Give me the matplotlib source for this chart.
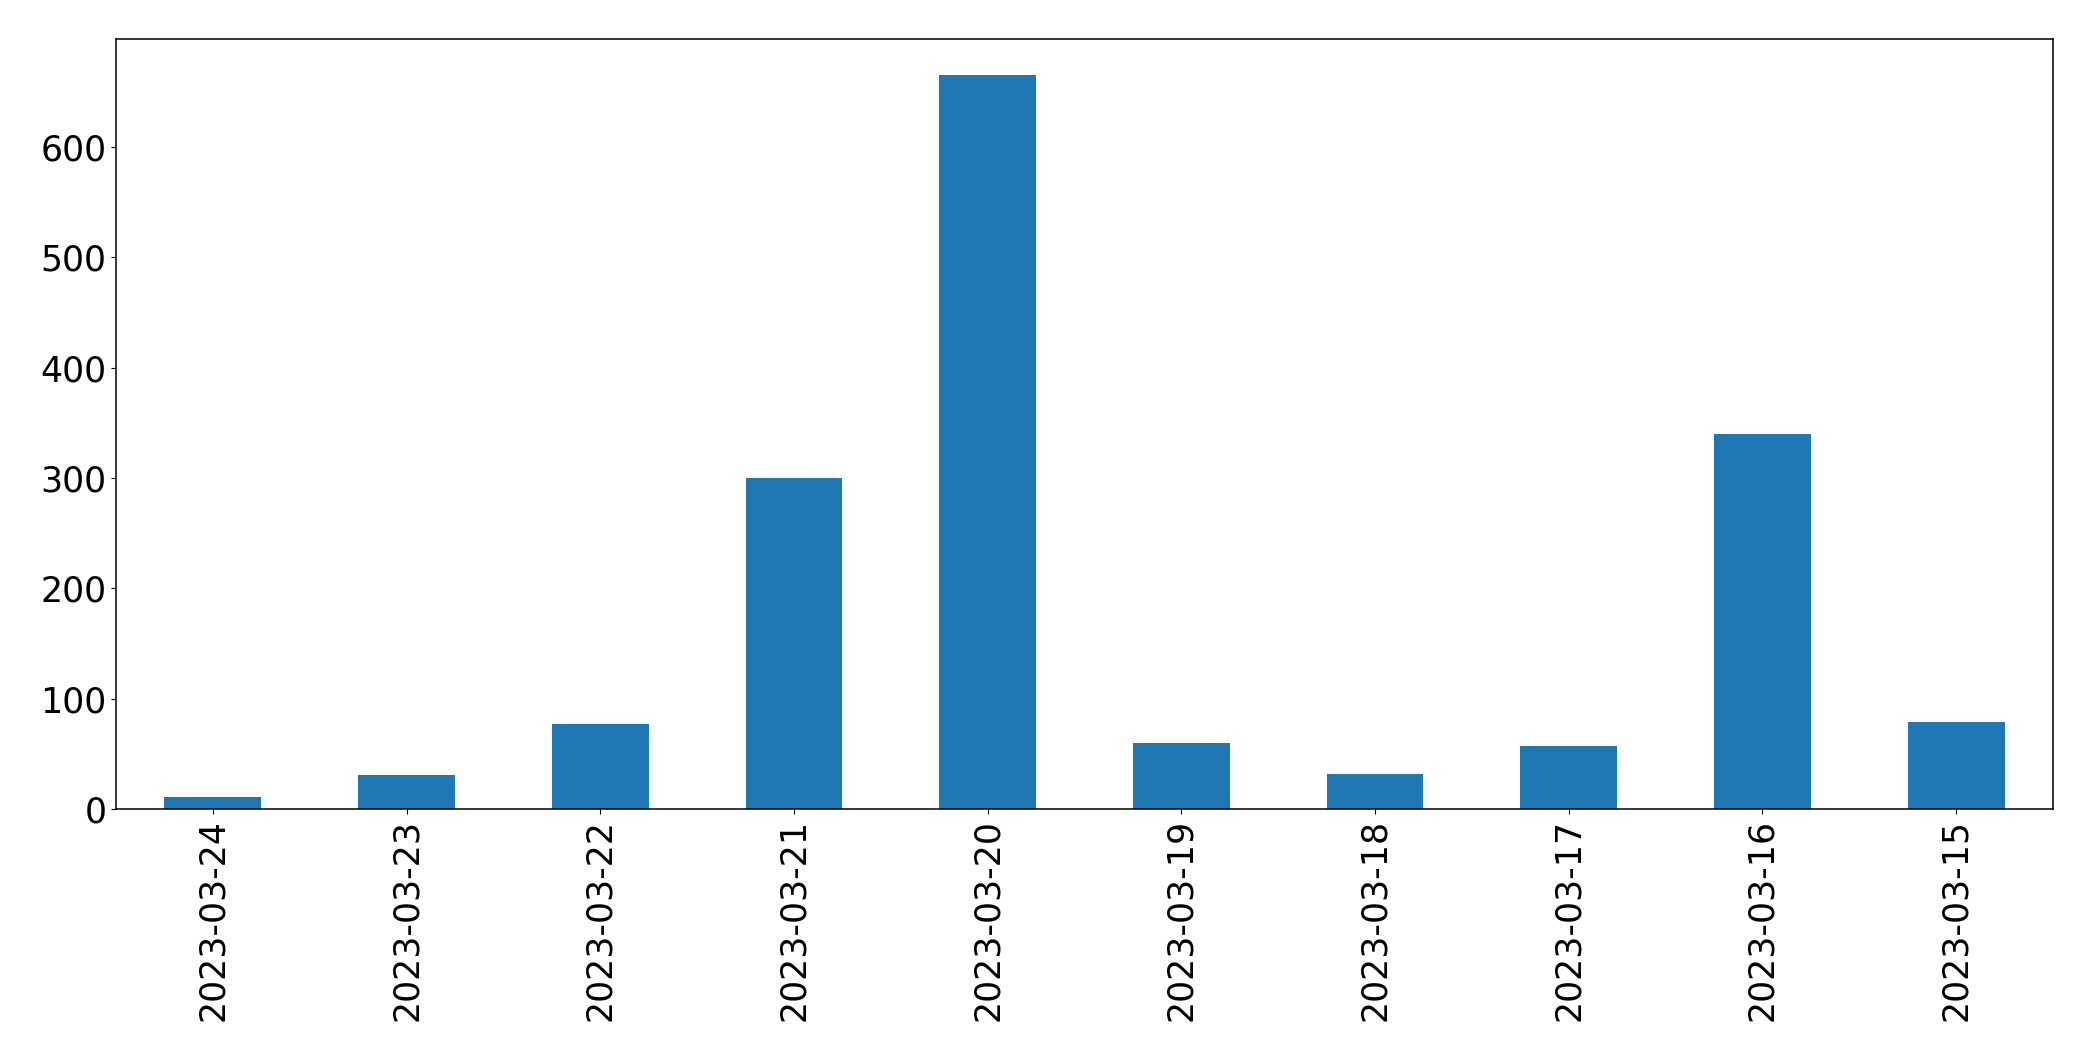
import matplotlib
matplotlib.use("Agg")
import matplotlib.pyplot as plt

dates = ["2023-03-24", "2023-03-23", "2023-03-22", "2023-03-21", "2023-03-20",
         "2023-03-19", "2023-03-18", "2023-03-17", "2023-03-16", "2023-03-15"]
counts = [11, 31, 77, 300, 665, 60, 32, 57, 340, 79]

fig = plt.figure(figsize=(20.93, 10.61), dpi=100)
ax = fig.add_axes([116 / 2093, 1 - 809 / 1061, (2053 - 116) / 2093, (809 - 38.7) / 1061])
x = list(range(len(dates)))
ax.bar(x, counts, width=0.5, color="#1f77b4")
ax.set_xlim(-0.5, len(dates) - 0.5)
ax.set_ylim(0, max(counts) * 1.05)
ax.set_xticks(x)
ax.set_xticklabels(dates, rotation=90)
ax.tick_params(labelsize=25)
for s in ax.spines.values():
    s.set_linewidth(1.1)
fig.savefig("out.png", dpi=100)
